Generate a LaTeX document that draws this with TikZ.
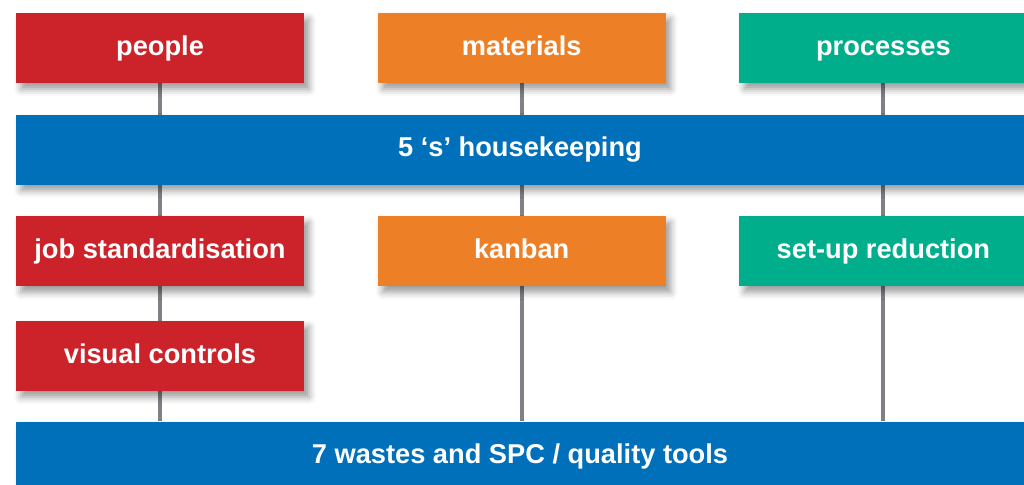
\documentclass[tikz,border=0pt]{standalone}
\usepackage{fontspec}
\setmainfont{Liberation Sans}
\usepackage{xcolor}
\usepackage{tikz}
\usetikzlibrary{positioning,backgrounds,shadows.blur}

\definecolor{pplred}{RGB}{204,35,43}
\definecolor{matorange}{RGB}{237,128,38}
\definecolor{procgreen}{RGB}{0,174,140}
\definecolor{barblue}{RGB}{0,112,186}
\definecolor{linkgray}{RGB}{128,128,135}

\begin{document}
\begin{tikzpicture}[
  node distance=0.62cm and 1.46cm,
  font=\fontsize{15.5}{18}\selectfont\bfseries,
  every node/.style={align=center, text=white, inner sep=0pt},
  box/.style={minimum height=1.4cm, minimum width=5.76cm, text height=0.4cm, text depth=0.12cm,
    blur shadow={shadow xshift=0.1cm, shadow yshift=-0.12cm, shadow blur radius=0.14cm, shadow opacity=40}},
  bar/.style={box, fill=barblue, minimum width=20.16cm},
  link/.style={draw=linkgray, line width=0.08cm}
]
\useasboundingbox (0,0) rectangle (20.48,-9.7);
% top row
\node[box, fill=pplred] (people) at (3.2,-0.96) {people};
\node[box, fill=matorange, right=of people] (materials) {materials};
\node[box, fill=procgreen, right=of materials] (processes) {processes};
\node[bar, below=of people.south west, anchor=north west] (house) {5 `s' housekeeping};
% second row
\node[box, fill=pplred, below=of house.south west, anchor=north west] (jobstd) {job standardisation};
\node[box, fill=matorange, right=of jobstd] (kanban) {kanban};
\node[box, fill=procgreen, right=of kanban] (setup) {set-up reduction};
\node[box, fill=pplred, below=0.68cm of jobstd] (visual) {visual controls};
\node[bar, below=0.6cm of visual.south west, anchor=north west] (waste) {7 wastes and SPC / quality tools};
% vertical links behind the boxes
\begin{scope}[on background layer]
\draw[link] (people.south) -- (people.south |- waste.north);
\draw[link] (materials.south) -- (materials.south |- waste.north);
\draw[link] (processes.south) -- (processes.south |- waste.north);
\end{scope}
\end{tikzpicture}
\end{document}
